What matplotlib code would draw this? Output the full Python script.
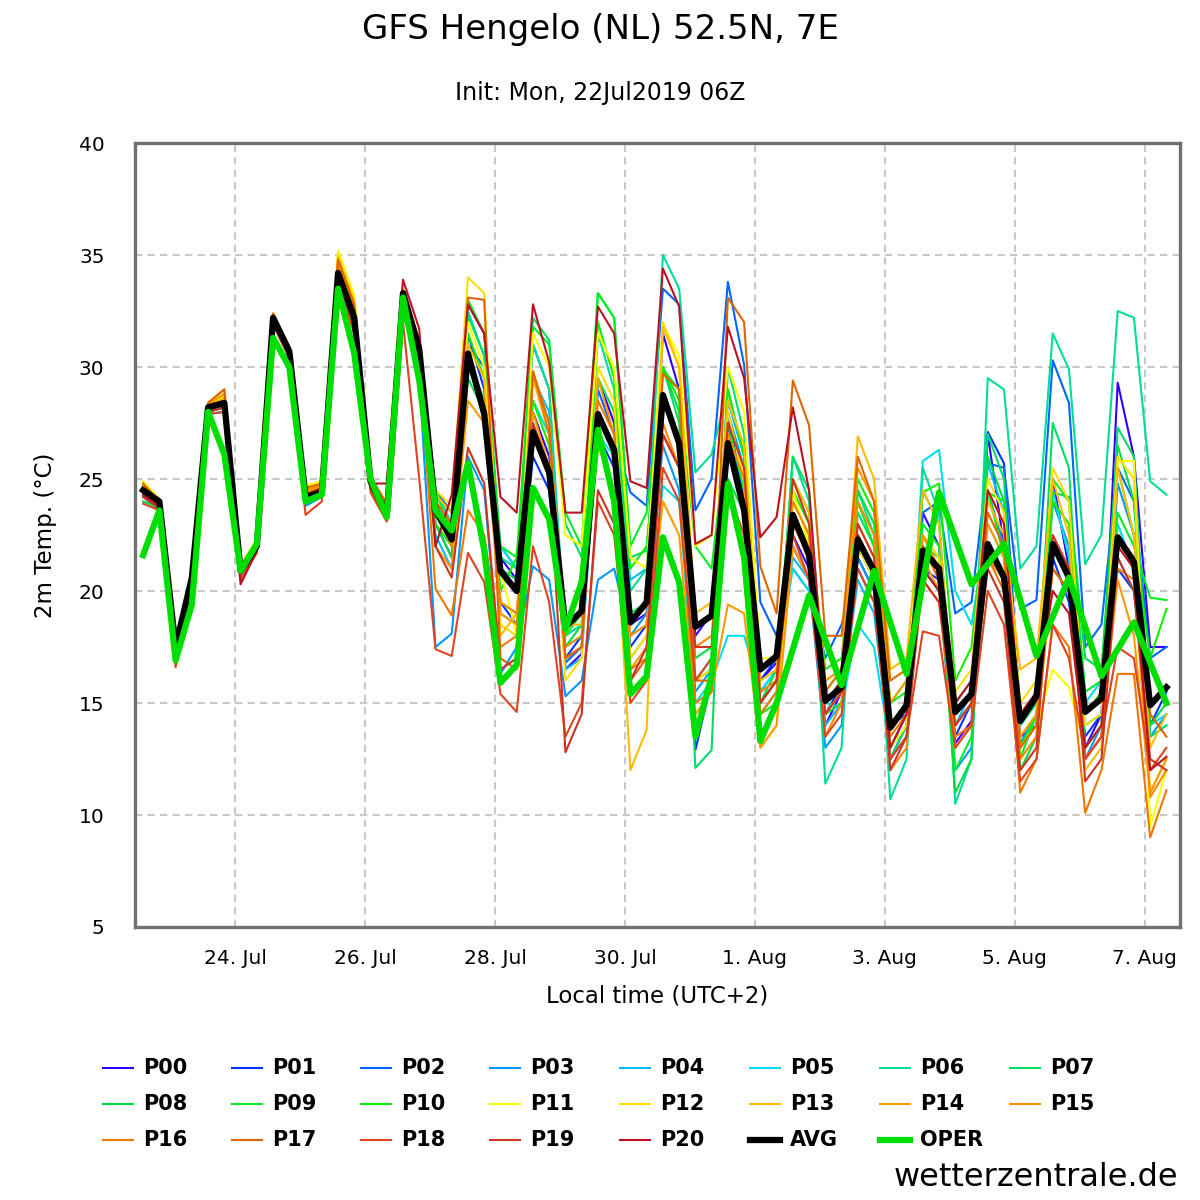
import numpy as np
import pandas as pd
import matplotlib
matplotlib.use("Agg")
import matplotlib.pyplot as plt
from matplotlib.lines import Line2D

# lead times (local time, UTC+2)
member_times = pd.date_range("2019-07-22 14:00", periods=64, freq="6h")
oper_times = pd.date_range("2019-07-22 14:00", periods=40, freq="6h").append(
    pd.date_range("2019-08-01 20:00", periods=12, freq="12h"))

p00 = [24.6, 23.9, 17.4, 20.4, 28.2, 28.5, 20.9, 22.0, 32.3, 30.8, 24.3, 24.5, 34.3, 32.4, 24.8, 23.5, 33.2, 31.0,
       24.0, 22.5, 32.8, 31.5, 21.5, 20.5, 28.0, 26.0, 16.5, 17.2, 29.5, 27.5, 18.5, 19.0, 31.5, 29.0, 18.0, 19.0,
       28.0, 24.0, 16.0, 16.8, 22.5, 21.0, 14.0, 15.5, 22.0, 20.5, 12.5, 14.0, 23.5, 22.0, 13.2, 14.2,
       27.0, 22.0, 13.5, 14.0, 25.0, 21.0, 13.0, 14.5, 29.3, 26.0, 17.5, 17.5]
p01 = [24.4, 23.8, 17.5, 20.5, 28.1, 28.4, 21.0, 22.0, 32.1, 30.6, 24.2, 24.4, 34.0, 32.0, 24.9, 23.6, 33.0, 30.6,
       23.0, 21.5, 31.5, 29.0, 19.5, 18.5, 26.0, 24.5, 17.0, 18.0, 27.0, 25.5, 17.5, 18.5, 28.5, 26.5, 12.9, 16.0,
       27.5, 24.0, 16.0, 17.0, 22.0, 20.5, 14.5, 15.8, 21.5, 20.0, 13.0, 14.5, 21.0, 20.5, 13.5, 15.0,
       27.1, 25.7, 14.5, 15.0, 21.5, 19.5, 13.5, 14.5, 21.0, 20.0, 14.0, 15.5]
p02 = [24.3, 23.7, 17.3, 20.3, 28.0, 28.2, 20.8, 21.9, 32.0, 30.5, 24.1, 24.4, 34.0, 32.1, 24.7, 23.4, 33.1, 30.9,
       24.5, 23.5, 31.0, 30.0, 22.0, 21.0, 31.0, 29.0, 16.8, 17.5, 29.0, 27.0, 24.4, 23.8, 33.5, 32.8, 23.6, 25.0,
       33.8, 30.1, 19.5, 18.0, 21.0, 20.0, 17.0, 18.5, 21.0, 19.5, 14.0, 14.5, 23.5, 24.0, 19.0, 19.5,
       25.7, 25.5, 19.2, 19.6, 30.3, 28.4, 17.5, 18.5, 25.5, 24.0, 17.0, 17.5]
p03 = [24.2, 23.6, 17.2, 20.2, 27.9, 28.0, 20.7, 21.8, 31.9, 30.4, 23.8, 24.2, 33.8, 31.7, 24.6, 23.2, 32.6, 29.6,
       17.5, 18.1, 26.0, 24.5, 16.3, 17.5, 21.1, 20.5, 15.3, 16.0, 20.5, 21.0, 18.0, 19.0, 26.5, 24.5, 15.5, 16.5,
       28.0, 25.5, 15.0, 16.0, 22.0, 20.5, 13.0, 14.0, 21.5, 20.0, 12.5, 13.5, 21.0, 20.0, 12.0, 13.0,
       24.5, 22.0, 13.2, 14.5, 24.0, 22.0, 12.5, 14.0, 24.8, 22.5, 13.5, 14.5]
p04 = [24.5, 23.9, 17.6, 20.6, 28.3, 28.5, 21.0, 22.1, 32.2, 30.7, 24.3, 24.6, 34.2, 32.3, 24.9, 23.7, 33.3, 30.8,
       22.5, 21.0, 30.5, 28.5, 19.0, 18.5, 29.5, 28.0, 16.5, 17.0, 28.0, 26.5, 20.5, 21.0, 27.0, 25.5, 16.0, 17.0,
       28.5, 26.0, 15.5, 16.5, 21.5, 20.5, 14.0, 15.0, 20.5, 19.0, 13.0, 14.0, 24.5, 23.0, 14.0, 15.5,
       25.7, 23.5, 13.0, 14.0, 22.0, 20.5, 14.0, 14.5, 21.5, 20.0, 13.5, 14.0]
p05 = [24.6, 24.0, 17.7, 20.7, 28.3, 28.6, 21.1, 22.2, 32.3, 30.8, 24.4, 24.6, 34.4, 32.5, 25.0, 23.8, 33.4, 31.0,
       24.0, 22.8, 30.0, 28.0, 22.0, 21.0, 28.5, 27.0, 17.5, 18.0, 27.0, 26.0, 17.0, 18.0, 24.7, 24.0, 15.0, 16.0,
       18.0, 18.0, 15.5, 16.5, 21.0, 20.0, 15.0, 14.8, 18.5, 17.5, 13.0, 14.0, 25.8, 26.3, 20.0, 18.5,
       23.0, 21.5, 14.0, 15.0, 24.5, 21.5, 15.0, 16.0, 23.0, 21.0, 14.0, 14.5]
p06 = [24.4, 23.8, 17.4, 20.4, 28.1, 28.3, 20.8, 22.0, 32.1, 30.6, 24.2, 24.5, 34.1, 32.1, 24.8, 23.6, 33.2, 30.9,
       24.5, 23.0, 32.5, 30.5, 21.5, 21.0, 31.0, 29.0, 18.0, 18.5, 31.5, 29.0, 20.0, 21.0, 35.0, 33.5, 25.3, 26.1,
       29.0, 26.0, 14.5, 15.5, 26.0, 24.0, 11.4, 13.0, 24.5, 22.5, 10.7, 12.5, 25.5, 23.5, 10.5, 12.5,
       29.5, 29.0, 21.0, 22.0, 31.5, 29.9, 21.2, 22.5, 32.5, 32.2, 24.9, 24.3]
p07 = [24.5, 23.9, 17.5, 20.5, 28.2, 28.4, 20.9, 22.0, 32.2, 30.7, 24.2, 24.5, 34.2, 32.2, 24.9, 23.6, 33.2, 30.8,
       24.3, 23.5, 32.3, 30.5, 21.0, 20.5, 32.2, 31.2, 23.0, 21.5, 33.3, 32.2, 21.5, 21.8, 30.0, 27.5, 12.1, 12.9,
       30.0, 27.0, 15.5, 16.0, 26.0, 24.5, 15.0, 16.0, 23.5, 22.0, 12.5, 14.0, 22.0, 21.5, 15.0, 16.0,
       27.0, 25.0, 14.0, 15.0, 27.5, 25.5, 13.0, 14.0, 27.3, 26.0, 13.5, 14.0]
p08 = [24.0, 23.7, 17.3, 20.3, 28.0, 28.2, 20.8, 21.9, 32.0, 30.5, 24.1, 24.3, 34.0, 32.0, 24.7, 23.4, 33.0, 30.6,
       23.0, 21.5, 29.5, 28.0, 19.5, 19.0, 27.0, 25.5, 17.5, 18.5, 29.5, 28.0, 19.0, 19.5, 30.0, 28.0, 17.0, 17.5,
       25.0, 23.5, 15.0, 16.5, 24.0, 22.5, 14.5, 15.0, 24.5, 23.0, 15.0, 16.0, 22.0, 21.0, 11.0, 12.5,
       26.0, 24.0, 12.0, 13.5, 24.4, 24.2, 17.0, 16.5, 26.5, 24.0, 14.0, 15.0]
p09 = [24.7, 24.0, 17.6, 20.6, 28.3, 28.6, 21.1, 22.1, 32.3, 30.8, 24.4, 24.6, 34.3, 32.4, 25.0, 23.7, 33.4, 31.0,
       24.5, 22.5, 33.0, 31.5, 22.0, 21.5, 31.8, 31.0, 23.5, 22.0, 33.3, 32.2, 22.0, 23.5, 29.9, 29.0, 22.0, 21.0,
       27.5, 24.5, 16.5, 17.0, 25.0, 23.5, 15.5, 16.5, 24.0, 22.0, 15.0, 15.5, 23.0, 22.0, 12.0, 13.5,
       24.4, 24.0, 12.5, 14.5, 25.0, 24.0, 15.5, 16.0, 23.5, 22.0, 19.7, 19.6]
p10 = [24.3, 23.8, 17.3, 20.4, 28.1, 28.3, 20.9, 22.0, 32.1, 30.6, 24.1, 24.4, 34.0, 32.0, 24.8, 23.5, 33.1, 30.7,
       23.0, 22.0, 31.5, 29.5, 20.0, 21.5, 28.5, 26.5, 18.0, 19.0, 32.0, 29.5, 21.0, 22.0, 30.0, 28.5, 16.0, 16.5,
       29.0, 26.0, 14.5, 15.0, 24.5, 23.0, 16.5, 17.0, 25.0, 23.5, 14.0, 15.0, 24.4, 24.8, 16.0, 17.5,
       24.5, 21.5, 13.0, 14.5, 24.0, 23.0, 14.5, 15.5, 25.5, 22.5, 17.0, 19.2]
p11 = [24.9, 24.1, 17.8, 20.8, 28.4, 28.8, 21.2, 22.3, 32.4, 30.9, 24.7, 24.9, 35.2, 33.2, 25.1, 23.9, 33.4, 30.9,
       24.0, 23.0, 32.0, 30.0, 21.0, 18.0, 31.5, 30.0, 22.5, 22.0, 31.5, 30.0, 21.5, 21.0, 31.9, 30.5, 22.0, 22.5,
       30.0, 28.0, 17.0, 17.0, 24.5, 22.0, 14.5, 15.5, 22.0, 20.5, 13.0, 14.0, 22.5, 21.0, 14.5, 15.5,
       24.5, 23.0, 13.0, 14.0, 16.5, 15.7, 13.0, 14.0, 25.8, 25.8, 9.5, 12.0]
p12 = [24.8, 24.0, 17.7, 20.7, 28.3, 28.7, 21.1, 22.2, 32.3, 30.8, 24.6, 24.8, 35.0, 33.0, 25.0, 23.8, 33.3, 30.8,
       24.5, 23.8, 34.0, 33.3, 18.5, 18.0, 29.8, 27.5, 16.0, 17.0, 30.0, 28.5, 17.0, 18.0, 32.0, 30.0, 16.0, 16.5,
       28.0, 25.0, 13.0, 14.0, 23.5, 22.0, 14.5, 15.5, 23.0, 21.5, 14.0, 15.0, 22.5, 21.5, 15.5, 16.5,
       25.0, 23.5, 15.0, 16.0, 25.5, 24.0, 14.0, 14.5, 26.0, 25.0, 11.0, 12.5]
p13 = [24.7, 24.0, 17.6, 20.6, 28.2, 28.6, 21.0, 22.2, 32.2, 30.7, 24.5, 24.7, 34.9, 32.9, 24.9, 23.7, 33.5, 31.2,
       24.3, 23.5, 31.0, 29.5, 18.0, 19.0, 29.5, 27.0, 18.5, 18.5, 26.5, 24.5, 12.0, 13.8, 31.8, 30.0, 19.0, 19.5,
       28.5, 26.5, 16.0, 16.5, 25.0, 23.5, 16.0, 16.5, 26.9, 25.0, 16.5, 17.0, 24.5, 23.0, 14.0, 15.0,
       24.0, 22.5, 16.5, 17.0, 25.0, 22.5, 12.0, 13.0, 25.5, 22.5, 13.0, 14.5]
p14 = [24.6, 23.9, 17.5, 20.5, 28.3, 28.8, 21.0, 22.1, 32.3, 30.8, 24.4, 24.7, 34.7, 32.7, 25.0, 23.7, 33.2, 30.8,
       22.0, 21.0, 28.5, 27.5, 19.0, 18.5, 28.0, 25.5, 17.0, 17.5, 29.5, 27.0, 16.5, 17.5, 24.0, 22.5, 14.5, 15.5,
       19.4, 19.0, 13.0, 14.0, 22.0, 20.5, 16.0, 16.5, 25.5, 24.0, 15.0, 16.0, 21.5, 20.0, 13.0, 14.0,
       23.0, 21.5, 13.5, 14.5, 22.5, 21.0, 12.5, 13.5, 20.5, 18.0, 11.0, 12.5]
p15 = [24.7, 24.0, 17.6, 20.6, 28.4, 29.0, 21.1, 22.2, 32.3, 30.8, 24.5, 24.7, 34.6, 32.6, 25.0, 23.8, 33.3, 30.9,
       23.5, 22.0, 30.0, 28.5, 19.5, 19.0, 27.0, 25.0, 17.5, 18.0, 28.0, 26.5, 18.0, 18.5, 27.5, 25.5, 17.5, 18.0,
       27.0, 25.0, 15.5, 16.0, 24.0, 22.5, 13.5, 15.0, 24.0, 22.5, 12.0, 13.0, 22.5, 21.0, 14.0, 15.0,
       21.5, 20.5, 12.5, 13.5, 21.0, 20.0, 12.5, 13.5, 21.0, 20.5, 10.8, 12.0]
p16 = [24.5, 23.9, 17.5, 20.5, 28.2, 28.5, 20.9, 22.0, 32.2, 30.7, 24.2, 24.5, 34.4, 32.3, 24.8, 23.6, 33.0, 30.3,
       20.1, 18.9, 23.6, 22.5, 17.5, 18.0, 29.8, 27.0, 17.0, 17.5, 28.5, 27.0, 16.5, 17.0, 27.0, 25.5, 15.0, 15.5,
       26.5, 24.0, 14.5, 15.5, 23.0, 21.5, 15.5, 16.5, 22.5, 21.0, 13.5, 14.5, 20.5, 19.5, 13.5, 14.0,
       21.5, 20.0, 11.0, 12.5, 18.5, 17.5, 10.1, 12.0, 16.3, 16.3, 9.0, 11.1]
p17 = [24.8, 24.0, 17.6, 20.6, 28.4, 29.0, 21.1, 22.2, 32.4, 30.9, 24.6, 24.8, 34.8, 32.8, 25.1, 23.9, 33.4, 31.2,
       24.0, 23.0, 33.1, 33.0, 17.0, 16.5, 29.8, 27.5, 17.0, 17.5, 28.0, 26.0, 16.0, 17.0, 29.7, 29.0, 16.0, 16.0,
       33.1, 32.0, 21.1, 19.0, 29.4, 27.4, 18.0, 18.0, 26.0, 24.0, 16.0, 16.5, 22.0, 20.5, 14.5, 15.5,
       23.5, 22.0, 13.0, 14.0, 21.0, 20.0, 12.5, 13.5, 22.5, 21.5, 14.5, 13.5]
p18 = [23.9, 23.6, 16.6, 20.2, 27.9, 28.0, 20.5, 21.7, 31.9, 30.4, 23.4, 24.0, 33.6, 31.5, 24.4, 23.1, 32.0, 25.0,
       17.4, 17.1, 21.7, 20.4, 15.4, 14.6, 22.0, 19.5, 13.5, 15.0, 24.0, 22.5, 15.0, 16.0, 25.5, 24.0, 16.0, 17.0,
       24.5, 22.5, 15.0, 16.0, 22.5, 20.5, 13.5, 14.5, 21.0, 19.5, 12.5, 13.5, 18.2, 18.0, 13.0, 14.0,
       20.0, 18.5, 11.5, 12.5, 18.5, 17.0, 12.5, 13.5, 17.5, 17.0, 12.0, 13.0]
p19 = [24.2, 23.7, 17.0, 20.3, 28.0, 28.2, 20.7, 21.9, 32.0, 30.5, 24.0, 24.3, 33.9, 31.8, 24.6, 23.3, 32.8, 30.2,
       22.0, 20.6, 26.4, 24.8, 16.5, 17.0, 27.5, 25.5, 12.8, 14.5, 24.5, 23.0, 16.0, 17.5, 27.0, 25.5, 17.5, 17.5,
       27.5, 25.5, 15.0, 16.0, 25.0, 23.0, 14.5, 15.5, 23.0, 21.5, 12.0, 13.5, 20.5, 19.5, 14.0, 15.0,
       21.0, 19.5, 12.0, 13.0, 22.5, 21.0, 11.5, 12.5, 21.5, 20.0, 12.5, 12.0]
p20 = [24.3, 23.8, 17.2, 20.4, 28.1, 28.3, 20.3, 21.8, 32.1, 30.6, 24.3, 24.6, 34.0, 32.5, 24.8, 24.8, 33.9, 31.7,
       22.0, 24.3, 32.8, 31.5, 24.2, 23.5, 32.8, 30.2, 23.5, 23.5, 32.7, 31.5, 24.9, 24.6, 34.4, 32.7, 22.1, 22.5,
       31.8, 29.5, 22.4, 23.3, 28.2, 24.5, 15.0, 16.0, 22.5, 21.0, 13.0, 14.5, 21.0, 20.0, 15.0, 16.0,
       24.5, 23.0, 14.5, 15.5, 20.0, 19.0, 13.0, 14.0, 22.0, 21.0, 12.0, 12.6]

avg = [24.5, 24.0, 17.5, 20.6, 28.2, 28.4, 20.9, 22.0, 32.2, 30.7, 24.2, 24.4, 34.2, 32.2, 24.9, 23.4,
       33.3, 30.8, 23.6, 22.3, 30.6, 27.9, 20.9, 20.0, 27.1, 25.3, 18.4, 19.1, 27.9, 26.3, 18.6, 19.5,
       28.75, 26.6, 18.4, 18.9, 26.6, 23.6, 16.5, 17.1, 23.4, 21.6, 15.1, 15.7, 22.3, 20.9, 13.9, 14.9,
       21.8, 21.0, 14.6, 15.4, 22.1, 20.6, 14.2, 15.3, 22.1, 20.6, 14.6, 15.2, 22.4, 21.3, 14.9, 15.7]

oper = [21.6, 23.6, 16.9, 19.4, 28.0, 26.1, 20.9, 22.1, 31.3, 30.0, 24.0, 24.3, 33.5, 30.6, 25.0, 23.3,
        33.1, 29.4, 23.6, 22.7, 25.7, 21.8, 15.9, 16.7, 24.6, 23.2, 18.3, 20.4, 27.2, 24.0, 15.4, 16.2,
        22.4, 20.4, 13.5, 16.2, 24.8, 21.5, 13.3, 15.0,
        19.8, 15.8, 20.9, 16.3, 24.4, 20.3, 22.1, 17.1, 20.6, 16.2, 18.6, 15.0]

members = [p00, p01, p02, p03, p04, p05, p06, p07, p08, p09, p10,
           p11, p12, p13, p14, p15, p16, p17, p18, p19, p20]
member_names = ["P%02d" % i for i in range(21)]
member_colors = ["#3300ff", "#0033ff", "#0066ff", "#0099ff", "#00bbff", "#00ddee", "#00dd99",
                 "#00dd66", "#00dd44", "#00ee22", "#11ee00", "#ffff00", "#ffdd00", "#ffbb00",
                 "#ff9900", "#ff8800", "#ee7700", "#dd6600", "#dd4422", "#cc3322", "#bb1122"]

tick_dates = pd.to_datetime(["2019-07-24", "2019-07-26", "2019-07-28", "2019-07-30",
                             "2019-08-01", "2019-08-03", "2019-08-05", "2019-08-07"])
tick_labels = ["24. Jul", "26. Jul", "28. Jul", "30. Jul", "1. Aug", "3. Aug", "5. Aug", "7. Aug"]

fig = plt.figure(figsize=(12, 12), dpi=100)
ax = fig.add_axes([0.1125, 0.2275, 0.8708, 0.6533])

for vals, name, col in zip(members, member_names, member_colors):
    ax.plot(member_times, vals, color=col, lw=1.5, label=name)
ax.plot(member_times, avg, color="black", lw=4.5, label="AVG")
ax.plot(oper_times, oper, color="#00dd00", lw=4.5, label="OPER")

ax.set_xlim(pd.Timestamp("2019-07-22 11:00"), pd.Timestamp("2019-08-07 13:00"))
ax.set_ylim(5, 40)
ax.set_yticks(range(5, 41, 5))
ax.set_xticks(tick_dates)
ax.set_xticklabels(tick_labels)
ax.tick_params(length=0, labelsize=14.5)
ax.tick_params(axis="y", pad=22)
ax.tick_params(axis="x", pad=16)
ax.grid(True, color="#c8c8c8", lw=1.5, ls=(0, (3.5, 2.5)))
ax.set_axisbelow(True)
for sp in ax.spines.values():
    sp.set_color("#707070")
    sp.set_linewidth(2.4)

ax.set_xlabel("Local time (UTC+2)", fontsize=16.5)
ax.xaxis.set_label_coords(0.5, -0.088)
ax.xaxis.label.set_va("center")
ax.set_ylabel("2m Temp. (°C)", fontsize=16.5)
ax.yaxis.set_label_coords(-0.086, 0.5)
ax.yaxis.label.set_va("center")

fig.text(0.5, 1 - 30 / 1200, "GFS Hengelo (NL) 52.5N, 7E", ha="center", va="center", fontsize=24.5)
fig.text(0.5, 1 - 93 / 1200, "Init: Mon, 22Jul2019 06Z", ha="center", va="center", fontsize=17)

# legend, laid out row by row like the original
handles, labels = ax.get_legend_handles_labels()
col_x = [103, 232, 361, 490, 620, 750, 880, 1010]
row_y = [1068, 1104, 1140]
for k, (h, lab) in enumerate(zip(handles, labels)):
    r, c = divmod(k, 8)
    x0 = col_x[c] / 1200
    y0 = 1 - row_y[r] / 1200
    fig.add_artist(Line2D([x0, x0 + 30 / 1200], [y0, y0], color=h.get_color(),
                          lw=h.get_linewidth(), transform=fig.transFigure))
    fig.text(x0 + 40 / 1200, y0, lab, ha="left", va="center", fontsize=15, fontweight="bold")

fig.text(1178 / 1200, 1 - 1177 / 1200, "wetterzentrale.de", ha="right", va="center", fontsize=23)

fig.savefig("out.png", dpi=100)
